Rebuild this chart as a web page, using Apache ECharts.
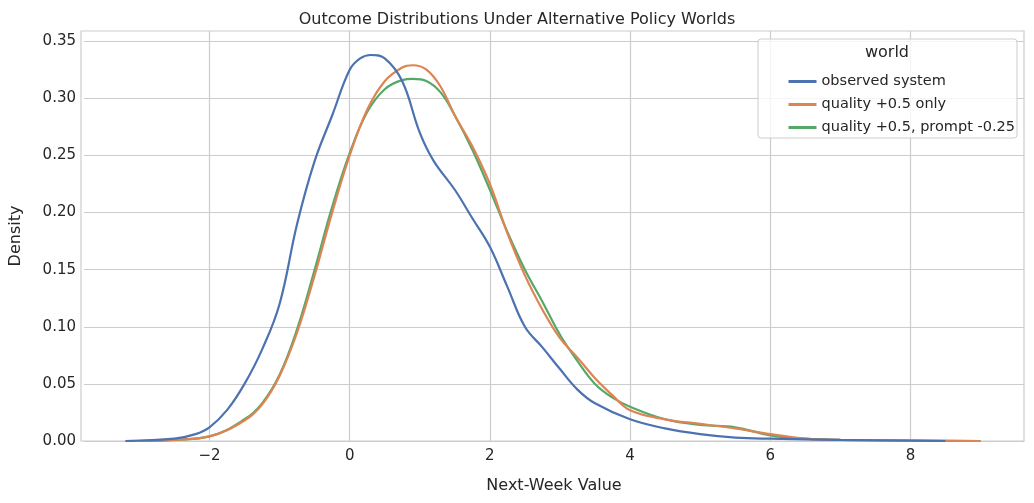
<!DOCTYPE html><html><head><meta charset="utf-8"><script src="https://cdn.jsdelivr.net/npm/echarts@6/dist/echarts.min.js"></script>
<style>body{margin:0;background:#fff}#c{width:1034px;height:503px}</style></head><body><div id="c"></div><script>
const xTicks=[-2,0,2,4,6,8];
const yTicks=[0,0.05,0.1,0.15,0.2,0.25,0.3,0.35];
const names=["observed system","quality +0.5 only","quality +0.5, prompt -0.25"];
const colors=["#4c72b0","#dd8452","#55a868"];
const observed=[[-3.2,0],[-2.5,0.002],[-2.2,0.006],[-2,0.012],[-1.75,0.027],[-1.5,0.05],[-1.25,0.08],[-1,0.12],[-0.75,0.19],[-0.5,0.245],[-0.25,0.285],[0,0.325],[0.15,0.335],[0.3,0.338],[0.5,0.335],[0.75,0.315],[1,0.27],[1.2,0.245],[1.5,0.22],[1.75,0.195],[2,0.17],[2.25,0.135],[2.5,0.1],[2.75,0.082],[3,0.063],[3.25,0.045],[3.5,0.033],[4,0.019],[4.5,0.011],[5,0.006],[5.5,0.003],[6,0.002],[7,0.001],[8.5,0]];
const quality=[[-3,0],[-2.5,0.001],[-2,0.004],[-1.5,0.018],[-1.25,0.032],[-1,0.057],[-0.75,0.095],[-0.5,0.145],[-0.25,0.2],[0,0.25],[0.25,0.29],[0.5,0.315],[0.75,0.327],[0.9,0.329],[1.1,0.325],[1.3,0.31],[1.5,0.285],[1.75,0.258],[2,0.225],[2.25,0.182],[2.5,0.145],[2.75,0.115],[3,0.09],[3.25,0.073],[3.5,0.055],[3.75,0.04],[4,0.027],[4.5,0.019],[5,0.015],[5.5,0.011],[6,0.006],[6.5,0.002],[7,0.001],[9,0]];
const qualityPrompt=[[-3,0],[-2.5,0.001],[-2,0.004],[-1.5,0.019],[-1.25,0.033],[-1,0.058],[-0.75,0.098],[-0.5,0.15],[-0.25,0.205],[0,0.252],[0.25,0.288],[0.5,0.308],[0.75,0.316],[0.9,0.317],[1.1,0.315],[1.3,0.305],[1.5,0.285],[1.75,0.255],[2,0.22],[2.25,0.183],[2.5,0.15],[2.75,0.122],[3,0.093],[3.25,0.07],[3.5,0.05],[3.75,0.038],[4,0.03],[4.5,0.019],[5,0.014],[5.5,0.012],[6,0.005],[6.5,0.002],[7,0.001],[9,0]];
const ch=echarts.init(document.getElementById('c'));
const F='DejaVu Sans';
ch.setOption({animation:false,textStyle:{fontFamily:F},
title:{text:'Outcome Distributions Under Alternative Policy Worlds',left:'center',top:7,textStyle:{fontSize:16,fontWeight:'normal',color:'#262626',fontFamily:F}},
grid:{left:81,right:10,top:31,bottom:62},
xAxis:{type:'value',min:-3.79,max:9.62,name:'Next-Week Value',nameLocation:'middle',nameGap:37,nameTextStyle:{fontSize:16,color:'#262626'},
axisLine:{show:true,onZero:false,lineStyle:{color:'#cccccc'}},axisTick:{show:false,customValues:xTicks},
axisLabel:{customValues:xTicks,fontSize:15,color:'#262626',formatter:v=>String(v).replace('-','\u2212')},
splitLine:{show:true,lineStyle:{color:'#cccccc',width:1.2}}},
yAxis:{type:'value',min:0,max:0.359,name:'Density',nameLocation:'middle',nameGap:60,nameTextStyle:{fontSize:16,color:'#262626'},
axisLine:{show:true,lineStyle:{color:'#cccccc'}},axisTick:{show:false,customValues:yTicks},
axisLabel:{customValues:yTicks,fontSize:15,color:'#262626',formatter:v=>v.toFixed(2)},
splitLine:{show:true,lineStyle:{color:'#cccccc',width:1.2}}},
legend:{orient:'vertical',right:14,top:69,itemWidth:28,itemHeight:3,itemGap:8,icon:'rect',textStyle:{fontSize:14.5,color:'#262626'},data:names},
graphic:[{type:'rect',shape:{x:758,y:39,width:259,height:99,r:3},style:{fill:'rgba(255,255,255,0.8)',stroke:'#cccccc'},z:1},
{type:'text',x:887,y:45,style:{text:'world',fontSize:16,fill:'#262626',fontFamily:F,textAlign:'center'},z:2},
{type:'rect',shape:{x:81,y:31,width:943,height:410},style:{fill:'none',stroke:'#cccccc',lineWidth:1.2},z:0}],
series:[observed,quality,qualityPrompt].map((d,i)=>({name:names[i],type:'line',data:d,smooth:0.4,showSymbol:false,lineStyle:{width:2.2,color:colors[i]},itemStyle:{color:colors[i]},z:6-i}))
});
</script></body></html>
